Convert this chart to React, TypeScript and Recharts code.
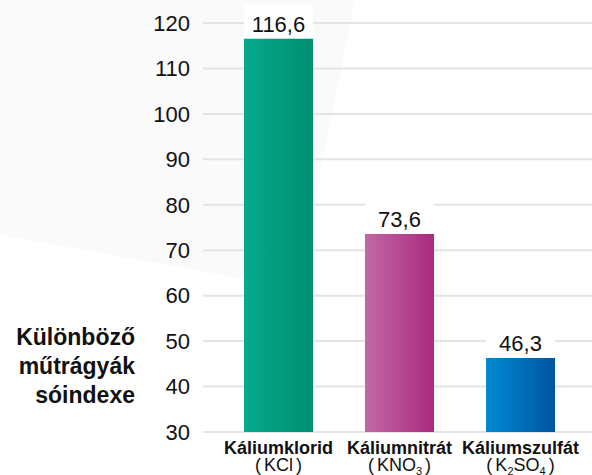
import { Bar, BarChart, CartesianGrid, Cell, LabelList, XAxis, YAxis } from 'recharts';

const categories = ['Káliumklorid', 'Káliumnitrát', 'Káliumszulfát'];
const formulas = [
    [{ t: 'KCl' }],
    [{ t: 'KNO' }, { t: '3', sub: true }],
    [{ t: 'K' }, { t: '2', sub: true }, { t: 'SO' }, { t: '4', sub: true }],
];
const saltIndex = [116.6, 73.6, 46.3];
const yTicks = [30, 40, 50, 60, 70, 80, 90, 100, 110, 120];
const titleLines = ['Különböző', 'műtrágyák', 'sóindexe'];

const gradients = [
    ['#05a98e', '#008f6e'],
    ['#c268a5', '#ab2a7e'],
    ['#008bd2', '#0055a0'],
];

const FONT = '"Liberation Sans", Arial, Helvetica, sans-serif';

const data = categories.map((name, i) => ({ name, value: saltIndex[i], idx: i }));

const XTick = ({ x, y, payload }: any) => {
    const i = categories.indexOf(payload.value);
    const parts = formulas[i] || [];
    const lastSub = parts[parts.length - 1]?.sub;
    return (
        <g>
            <text x={x} y={y + 22} textAnchor="middle" fontFamily={FONT} fontSize={18} fontWeight="bold" fill="#111">
                {payload.value}
            </text>
            <text x={x} y={y + 39} textAnchor="middle" fontFamily={FONT} fontSize={18} fill="#111">
                <tspan>(</tspan>
                {parts.map((p, k) =>
                    p.sub ? (
                        <tspan key={k} fontSize={11} dy={4}>
                            {p.t}
                        </tspan>
                    ) : (
                        <tspan key={k} dx={k === 0 ? 3 : 0} dy={k > 0 && parts[k - 1].sub ? -4 : 0}>
                            {p.t}
                        </tspan>
                    )
                )}
                <tspan dx={3} dy={lastSub ? -4 : 0}>
                    )
                </tspan>
            </text>
        </g>
    );
};

const ValueLabel = (props: any) => {
    const { x, y, width, value } = props;
    return (
        <g>
            <rect x={x} y={y - 34} width={width} height={34} fill="#fff" />
            <text x={x + width / 2} y={y - 6.5} textAnchor="middle" fontFamily={FONT} fontSize={22} fill="#111">
                {String(value).replace('.', ',')}
            </text>
        </g>
    );
};

const SideTitle = () => (
    <text textAnchor="end" fontFamily={FONT} fontSize={23} fontWeight="bold" fill="#111">
        {titleLines.map((line, i) => (
            <tspan key={i} x={135} y={345 + i * 29}>
                {line}
            </tspan>
        ))}
    </text>
);

export default function App() {
    return (
        <div style={{ position: 'absolute', left: 0, top: 0, width: 592, height: 475, background: '#fff' }}>
            <svg width={592} height={475} style={{ position: 'absolute', left: 0, top: 0 }}>
                <polygon points="0,0 355,0 297,288 0,235" fill="#fafafa" />
            </svg>
            <div style={{ position: 'absolute', left: 0, top: 0 }}>
                <BarChart width={592} height={475} data={data} margin={{ top: 23, right: 0, bottom: 0, left: 0 }}>
                    <defs>
                        {gradients.map((g, i) => (
                            <linearGradient key={i} id={`grad${i}`} x1="0" y1="0" x2="1" y2="0">
                                <stop offset="0%" stopColor={g[0]} />
                                <stop offset="100%" stopColor={g[1]} />
                            </linearGradient>
                        ))}
                    </defs>
                    <CartesianGrid vertical={false} stroke="#e4e4e4" strokeWidth={2} />
                    <XAxis
                        dataKey="name"
                        height={43}
                        axisLine={false}
                        tickLine={false}
                        tickSize={0}
                        tickMargin={0}
                        padding={{ left: 15, right: 11 }}
                        interval={0}
                        tick={<XTick />}
                    />
                    <YAxis
                        width={203}
                        domain={[30, 120]}
                        ticks={yTicks}
                        interval={0}
                        axisLine={false}
                        tickLine={false}
                        tickSize={0}
                        tickMargin={13}
                        tick={{ fontFamily: FONT, fontSize: 22, fill: '#111' }}
                        label={{ content: () => <SideTitle /> }}
                    />
                    <Bar dataKey="value" barSize={69} isAnimationActive={false}>
                        {data.map((d) => (
                            <Cell key={d.idx} fill={`url(#grad${d.idx})`} />
                        ))}
                        <LabelList dataKey="value" content={<ValueLabel />} />
                    </Bar>
                </BarChart>
            </div>
        </div>
    );
}
